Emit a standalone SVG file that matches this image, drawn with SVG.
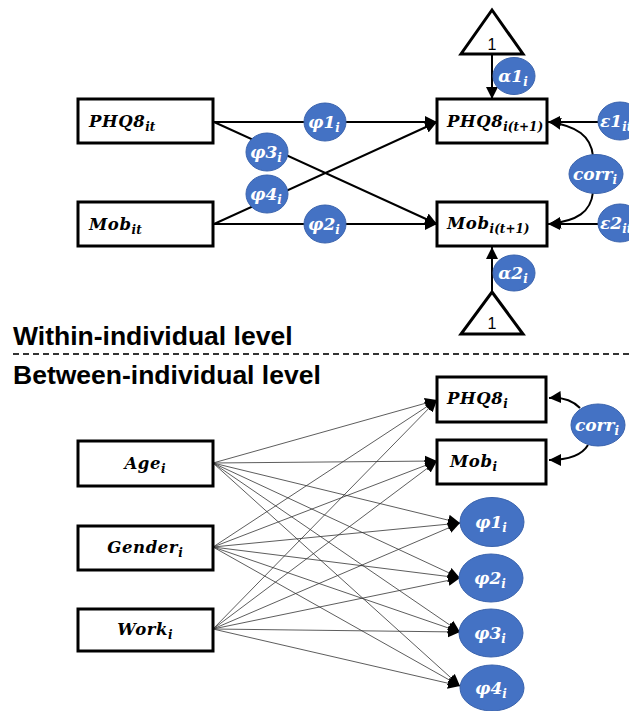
<svg xmlns="http://www.w3.org/2000/svg" width="629" height="711" viewBox="0 0 629 711">
  <style>
    .box { fill: #fff; stroke: #000; stroke-width: 3; }
    .tri { fill: #fff; stroke: #000; stroke-width: 3; stroke-linejoin: miter; }
    .par { fill: #4472c4; stroke: #3a63ad; stroke-width: 1; }
    .lbl { font-family: "DejaVu Serif", "Liberation Serif", serif; font-weight: bold; font-style: italic; font-size: 16.5px; letter-spacing: 0.6px; fill: #000; }
    .plbl { font-family: "DejaVu Serif", "Liberation Serif", serif; font-weight: bold; font-style: italic; font-size: 17px; fill: #fff; }
    .sub { font-size: 12px; letter-spacing: 0; }
    .one { font-family: "Liberation Sans", Arial, sans-serif; font-size: 16px; fill: #000; }
    .head { font-family: "Liberation Sans", Arial, sans-serif; font-weight: bold; font-size: 26.5px; fill: #000; }
    .thick { stroke: #000; stroke-width: 2; fill: none; }
    .thin { stroke: #333; stroke-width: 0.8; fill: none; }
  </style>
  <defs>
    <marker id="ah" markerUnits="userSpaceOnUse" markerWidth="13" markerHeight="12" refX="12" refY="6" orient="auto">
      <path d="M0,0 L12,6 L0,12 z" fill="#000"/>
    </marker>
    <marker id="ahs" markerUnits="userSpaceOnUse" markerWidth="13" markerHeight="12" refX="12" refY="6" orient="auto">
      <path d="M0,0.5 L12,6 L0,11.5 z" fill="#000"/>
    </marker>
  </defs>

  <!-- headings and level divider -->
  <text class="head" x="13" y="345">Within-individual level</text>
  <line x1="13" y1="354" x2="629" y2="354" stroke="#333" stroke-width="2" stroke-dasharray="6 4"/>
  <text class="head" x="13" y="384">Between-individual level</text>

  <!-- connectors -->
  <g id="connectors">
    <!-- within-individual paths -->
    <line class="thick" x1="214" y1="122" x2="437" y2="122" marker-end="url(#ah)"/>
    <line class="thick" x1="214" y1="224" x2="437" y2="224" marker-end="url(#ah)"/>
    <line class="thick" x1="214" y1="122" x2="437" y2="224" marker-end="url(#ah)"/>
    <line class="thick" x1="214" y1="224" x2="437" y2="122" marker-end="url(#ah)"/>
    <line class="thick" x1="492" y1="55" x2="492" y2="99" marker-end="url(#ah)"/>
    <line class="thick" x1="492" y1="292" x2="492" y2="247" marker-end="url(#ah)"/>
    <line class="thick" x1="598" y1="122" x2="548" y2="122" marker-end="url(#ah)"/>
    <line class="thick" x1="598" y1="224" x2="548" y2="224" marker-end="url(#ah)"/>
    <path class="thick" d="M593,156 C591,136 577,126 549,122" marker-end="url(#ah)"/>
    <path class="thick" d="M593,192 C591,212 577,221 549,224" marker-end="url(#ah)"/>

    <!-- between-individual paths -->
    <line class="thin" x1="213" y1="463" x2="437" y2="400" marker-end="url(#ahs)"/>
    <line class="thin" x1="213" y1="463" x2="437" y2="461" marker-end="url(#ahs)"/>
    <line class="thin" x1="213" y1="463" x2="460" y2="523" marker-end="url(#ahs)"/>
    <line class="thin" x1="213" y1="463" x2="460" y2="578" marker-end="url(#ahs)"/>
    <line class="thin" x1="213" y1="463" x2="460" y2="632" marker-end="url(#ahs)"/>
    <line class="thin" x1="213" y1="463" x2="460" y2="686" marker-end="url(#ahs)"/>
    <line class="thin" x1="213" y1="547" x2="437" y2="400" marker-end="url(#ahs)"/>
    <line class="thin" x1="213" y1="547" x2="437" y2="461" marker-end="url(#ahs)"/>
    <line class="thin" x1="213" y1="547" x2="460" y2="523" marker-end="url(#ahs)"/>
    <line class="thin" x1="213" y1="547" x2="460" y2="578" marker-end="url(#ahs)"/>
    <line class="thin" x1="213" y1="547" x2="460" y2="632" marker-end="url(#ahs)"/>
    <line class="thin" x1="213" y1="547" x2="460" y2="686" marker-end="url(#ahs)"/>
    <line class="thin" x1="213" y1="629" x2="437" y2="400" marker-end="url(#ahs)"/>
    <line class="thin" x1="213" y1="629" x2="437" y2="461" marker-end="url(#ahs)"/>
    <line class="thin" x1="213" y1="629" x2="460" y2="523" marker-end="url(#ahs)"/>
    <line class="thin" x1="213" y1="629" x2="460" y2="578" marker-end="url(#ahs)"/>
    <line class="thin" x1="213" y1="629" x2="460" y2="632" marker-end="url(#ahs)"/>
    <line class="thin" x1="213" y1="629" x2="460" y2="686" marker-end="url(#ahs)"/>
    <path class="thick" d="M580,408 C572,400 562,397 549,398" marker-end="url(#ah)"/>
    <path class="thick" d="M588,445 C582,455 570,460 549,460" marker-end="url(#ah)"/>
  </g>

  <!-- within-individual nodes -->
  <g id="tri-top">
    <polygon class="tri" points="492,10 523,54 461,54"/>
    <text class="one" x="492" y="50" text-anchor="middle">1</text>
  </g>
  <g id="tri-bottom">
    <polygon class="tri" points="492,292 523,334 461,334"/>
    <text class="one" x="492" y="329" text-anchor="middle">1</text>
  </g>
  <g id="phq8-it">
    <rect class="box" x="78" y="99" width="135" height="44"/>
    <text class="lbl" x="89" y="127">PHQ8<tspan class="sub" dy="4">it</tspan></text>
  </g>
  <g id="mob-it">
    <rect class="box" x="78" y="202" width="135" height="44"/>
    <text class="lbl" x="89" y="230">Mob<tspan class="sub" dy="4">it</tspan></text>
  </g>
  <g id="phq8-next">
    <rect class="box" x="437" y="99" width="110" height="44"/>
    <text class="lbl" x="447" y="127">PHQ8<tspan class="sub" dy="4">i(t+1)</tspan></text>
  </g>
  <g id="mob-next">
    <rect class="box" x="437" y="202" width="110" height="44"/>
    <text class="lbl" x="447" y="229">Mob<tspan class="sub" dy="4">i(t+1)</tspan></text>
  </g>
  <g id="phi1-w">
    <ellipse class="par" cx="325" cy="122" rx="21" ry="19"/>
    <text class="plbl" x="324" y="128" text-anchor="middle">φ1<tspan class="sub" dy="4">i</tspan></text>
  </g>
  <g id="phi2-w">
    <ellipse class="par" cx="325" cy="224" rx="21" ry="19"/>
    <text class="plbl" x="324" y="230" text-anchor="middle">φ2<tspan class="sub" dy="4">i</tspan></text>
  </g>
  <g id="phi3-w">
    <ellipse class="par" cx="267" cy="152" rx="21" ry="19"/>
    <text class="plbl" x="266" y="158" text-anchor="middle">φ3<tspan class="sub" dy="4">i</tspan></text>
  </g>
  <g id="phi4-w">
    <ellipse class="par" cx="267" cy="194" rx="21" ry="19"/>
    <text class="plbl" x="266" y="200" text-anchor="middle">φ4<tspan class="sub" dy="4">i</tspan></text>
  </g>
  <g id="alpha1">
    <ellipse class="par" cx="514" cy="76" rx="21" ry="18.5"/>
    <text class="plbl" x="513" y="82" text-anchor="middle">α1<tspan class="sub" dy="4">i</tspan></text>
  </g>
  <g id="alpha2">
    <ellipse class="par" cx="514" cy="273" rx="21" ry="18"/>
    <text class="plbl" x="513" y="279" text-anchor="middle">α2<tspan class="sub" dy="4">i</tspan></text>
  </g>
  <g id="eps1">
    <ellipse class="par" cx="620" cy="121" rx="22" ry="19"/>
    <text class="plbl" x="600" y="127">ε1<tspan class="sub" dy="4">it</tspan></text>
  </g>
  <g id="eps2">
    <ellipse class="par" cx="620" cy="223" rx="22" ry="19"/>
    <text class="plbl" x="600" y="229">ε2<tspan class="sub" dy="4">it</tspan></text>
  </g>
  <g id="corr-w">
    <ellipse class="par" cx="596" cy="174" rx="27" ry="19.5"/>
    <text class="plbl" x="595" y="180" text-anchor="middle">corr<tspan class="sub" dy="4">i</tspan></text>
  </g>

  <!-- between-individual nodes -->
  <g id="age">
    <rect class="box" x="78" y="441" width="135" height="45"/>
    <text class="lbl" x="145" y="469" text-anchor="middle">Age<tspan class="sub" dy="4">i</tspan></text>
  </g>
  <g id="gender">
    <rect class="box" x="78" y="526" width="135" height="44"/>
    <text class="lbl" x="145" y="553" text-anchor="middle">Gender<tspan class="sub" dy="4">i</tspan></text>
  </g>
  <g id="work">
    <rect class="box" x="78" y="609" width="135" height="42"/>
    <text class="lbl" x="145" y="635" text-anchor="middle">Work<tspan class="sub" dy="4">i</tspan></text>
  </g>
  <g id="phq8-b">
    <rect class="box" x="437" y="377" width="109" height="45"/>
    <text class="lbl" x="447" y="404">PHQ8<tspan class="sub" dy="4">i</tspan></text>
  </g>
  <g id="mob-b">
    <rect class="box" x="437" y="440" width="109" height="44"/>
    <text class="lbl" x="450" y="467">Mob<tspan class="sub" dy="4">i</tspan></text>
  </g>
  <g id="corr-b">
    <ellipse class="par" cx="598" cy="425" rx="27" ry="21"/>
    <text class="plbl" x="597" y="431" text-anchor="middle">corr<tspan class="sub" dy="4">i</tspan></text>
  </g>
  <g id="phi1-b">
    <ellipse class="par" cx="492" cy="522" rx="32" ry="24.5"/>
    <text class="plbl" x="491" y="528" text-anchor="middle">φ1<tspan class="sub" dy="4">i</tspan></text>
  </g>
  <g id="phi2-b">
    <ellipse class="par" cx="491" cy="578" rx="32" ry="24"/>
    <text class="plbl" x="490" y="584" text-anchor="middle">φ2<tspan class="sub" dy="4">i</tspan></text>
  </g>
  <g id="phi3-b">
    <ellipse class="par" cx="491" cy="633" rx="32" ry="24"/>
    <text class="plbl" x="490" y="639" text-anchor="middle">φ3<tspan class="sub" dy="4">i</tspan></text>
  </g>
  <g id="phi4-b">
    <ellipse class="par" cx="492" cy="688" rx="32" ry="23"/>
    <text class="plbl" x="491" y="694" text-anchor="middle">φ4<tspan class="sub" dy="4">i</tspan></text>
  </g>
</svg>
